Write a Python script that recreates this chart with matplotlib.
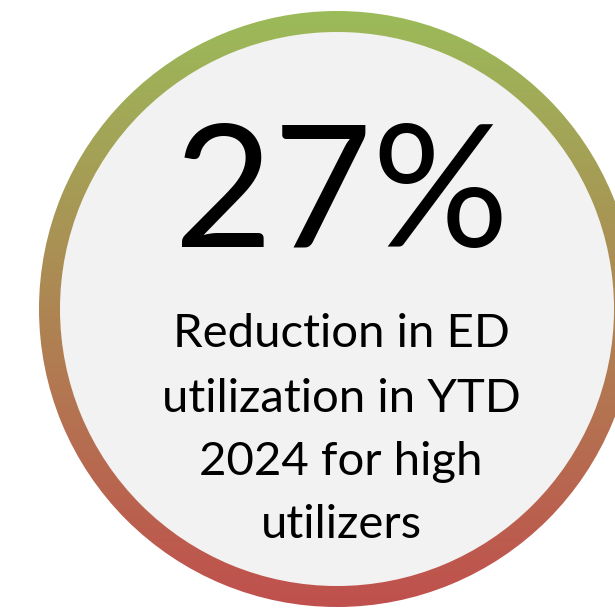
import matplotlib
matplotlib.use("Agg")
import matplotlib.pyplot as plt
import numpy as np
from matplotlib.patches import Circle, Annulus
from matplotlib.colors import LinearSegmentedColormap

# content
headline = "27%"
caption_lines = ["Reduction in ED", "utilization in YTD", "2024 for high", "utilizers"]
ring_colors = ["#9BBB59", "#C0504D"]  # top -> bottom

W, H = 615, 608
fig = plt.figure(figsize=(W / 100, H / 100), dpi=100)
ax = fig.add_axes([0, 0, 1, 1])
ax.set_xlim(0, W)
ax.set_ylim(H, 0)
ax.axis("off")

cx, cy, r_out, ring_w = 337, 309, 298, 21

# inner fill
ax.add_patch(Circle((cx, cy), r_out - ring_w, facecolor="#F2F2F2", edgecolor="none", zorder=1))

# ring with vertical gradient
ring = Annulus((cx, cy), r_out, ring_w, facecolor="none", edgecolor="none")
ax.add_patch(ring)
cmap = LinearSegmentedColormap.from_list("ring", ring_colors)
grad = np.linspace(0, 1, 256).reshape(-1, 1)
im = ax.imshow(grad, cmap=cmap, aspect="auto",
               extent=[cx - r_out, cx + r_out, cy + r_out, cy - r_out], zorder=2)
im.set_clip_path(ring)
ax.set_xlim(0, W)
ax.set_ylim(H, 0)

font = "Lato"
ax.text(342, 247, headline, ha="center", va="baseline", fontsize=123,
        family=font, color="black", zorder=3)

baselines = [347, 412, 475, 538]
for line, yb in zip(caption_lines, baselines):
    ax.text(341, yb, line, ha="center", va="baseline", fontsize=34,
            family=font, color="black", zorder=3)

fig.savefig("out.png", dpi=100)
